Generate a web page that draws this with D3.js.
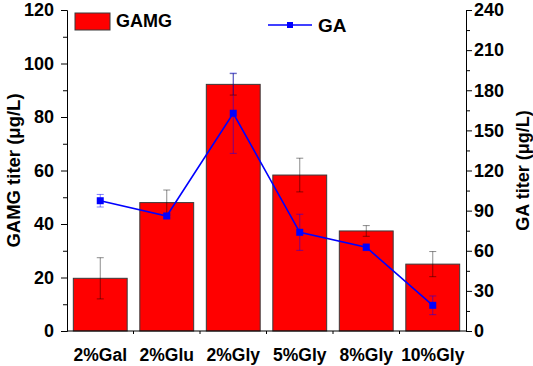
<!DOCTYPE html>
<html>
<head>
<meta charset="utf-8">
<script src="https://cdn.jsdelivr.net/npm/d3@7"></script>
<style>
    body { margin: 0; background: #fff; }
    svg { display: block; font-family: Arial, "Liberation Sans", sans-serif; }
</style>
</head>
<body>
<div id="chart"></div>
<script>
// DATA
// ================================================================================== //
const categories = ["2%Gal", "2%Glu", "2%Gly", "5%Gly", "8%Gly", "10%Gly"];
const gamg = [19.7, 48.0, 92.2, 58.3, 37.4, 25.0];
const gamgErr = [7.7, 4.7, 4.0, 6.3, 2.0, 4.7];
const ga = [97.4, 86.0, 162.8, 73.8, 62.6, 19.2];
const gaErr = [4.7, 1.5, 30.0, 13.5, 2.5, 7.0];
const leftTicks = [0, 20, 40, 60, 80, 100, 120];
const rightTicks = [0, 30, 60, 90, 120, 150, 180, 210, 240];
// ================================================================================== //

const FONT = "Arial, 'Liberation Sans', sans-serif"
const width = 533
const height = 366
const margin = ({ top: 10, right: 67, bottom: 35, left: 67 })

const rows = categories.map((c, i) => ({ cat: c, gamg: gamg[i], gamgErr: gamgErr[i], ga: ga[i], gaErr: gaErr[i] }))

const x = d3.scaleBand()
    .domain(categories)
    .range([margin.left, width - margin.right])
    .padding(0)

const barW = x.bandwidth() * 0.81
const cx = d => x(d.cat) + x.bandwidth() / 2

const yL = d3.scaleLinear().domain([0, 120]).range([height - margin.bottom, margin.top])
const yR = d3.scaleLinear().domain([0, 240]).range([height - margin.bottom, margin.top])

const svg = d3.select("#chart")
    .append("svg")
    .attr("width", width)
    .attr("height", height)

// bars
svg.append("g")
    .selectAll("rect")
    .data(rows)
    .join("rect")
    .attr("x", d => cx(d) - barW / 2)
    .attr("width", barW)
    .attr("y", d => yL(d.gamg))
    .attr("height", d => yL(0) - yL(d.gamg))
    .attr("fill", "#ff0000")
    .attr("stroke", "#3a3a3a")
    .attr("stroke-width", 1)

// error bars helper
const errBars = (g, data, val, err, scale, color, cap) => {
    const e = g.selectAll("g").data(data).join("g")
    e.append("line")
        .attr("x1", cx).attr("x2", cx)
        .attr("y1", d => scale(val(d) - err(d)))
        .attr("y2", d => scale(val(d) + err(d)))
    e.append("line")
        .attr("x1", d => cx(d) - cap).attr("x2", d => cx(d) + cap)
        .attr("y1", d => scale(val(d) + err(d))).attr("y2", d => scale(val(d) + err(d)))
    e.append("line")
        .attr("x1", d => cx(d) - cap).attr("x2", d => cx(d) + cap)
        .attr("y1", d => scale(val(d) - err(d))).attr("y2", d => scale(val(d) - err(d)))
    e.selectAll("line").attr("stroke", color).attr("stroke-width", 1)
}

svg.append("g").call(errBars, rows, d => d.gamg, d => d.gamgErr, yL, "rgba(0,0,0,0.45)", 3.5)

// GA line
svg.append("path")
    .datum(rows)
    .attr("fill", "none")
    .attr("stroke", "#0000ff")
    .attr("stroke-width", 1.6)
    .attr("d", d3.line().x(cx).y(d => yR(d.ga)))

svg.append("g").call(errBars, rows, d => d.ga, d => d.gaErr, yR, "rgba(0,0,255,0.5)", 3.5)

svg.append("g")
    .selectAll("rect")
    .data(rows)
    .join("rect")
    .attr("x", d => cx(d) - 3.5)
    .attr("y", d => yR(d.ga) - 3.5)
    .attr("width", 7)
    .attr("height", 7)
    .attr("fill", "#0000ff")

// AXES
const tickFont = size => g => g
    .attr("font-family", FONT)
    .selectAll("text")
    .attr("font-family", FONT)
    .attr("font-size", size).attr("font-weight", "bold").attr("fill", "#000")

const minor = (major) => {
    const step = major[1] - major[0]
    return major.slice(0, -1).map(v => v + step / 2)
}

// left axis
svg.append("g")
    .attr("transform", `translate(${margin.left},0)`)
    .call(d3.axisLeft(yL).tickValues(leftTicks).tickSize(6).tickPadding(7))
    .call(tickFont(18))
svg.append("g")
    .attr("transform", `translate(${margin.left},0)`)
    .call(d3.axisLeft(yL).tickValues(minor(leftTicks)).tickSize(4).tickFormat(""))
    .call(g => g.select(".domain").remove())

// right axis
svg.append("g")
    .attr("transform", `translate(${width - margin.right},0)`)
    .call(d3.axisRight(yR).tickValues(rightTicks).tickSize(6).tickPadding(2))
    .call(tickFont(18))
svg.append("g")
    .attr("transform", `translate(${width - margin.right},0)`)
    .call(d3.axisRight(yR).tickValues(minor(rightTicks)).tickSize(4).tickFormat(""))
    .call(g => g.select(".domain").remove())

// bottom axis: labels at centers, ticks at category boundaries
const bottom = svg.append("g")
    .attr("transform", `translate(0,${height - margin.bottom})`)
bottom.call(d3.axisBottom(x).tickSize(0).tickPadding(18))
    .call(tickFont(17.5))
    .call(g => g.select(".domain").attr("d", `M${margin.left},0H${width - margin.right}`))
bottom.selectAll(".sep")
    .data(categories.slice(1))
    .join("line")
    .attr("x1", d => x(d)).attr("x2", d => x(d))
    .attr("y1", 0).attr("y2", 3)
    .attr("stroke", "#000")

// axis titles
svg.append("text")
    .attr("transform", `translate(20,${(yL(0) + yL(120)) / 2}) rotate(-90)`)
    .attr("text-anchor", "middle")
    .attr("font-size", 18.5).attr("font-weight", "bold")
    .text("GAMG titer (μg/L)")
svg.append("text")
    .attr("transform", `translate(529,${(yR(0) + yR(240)) / 2}) rotate(-90)`)
    .attr("text-anchor", "middle")
    .attr("font-size", 18).attr("font-weight", "bold")
    .text("GA titer (μg/L)")

// legend
const legend = svg.append("g")
legend.append("rect")
    .attr("x", 75).attr("y", 13).attr("width", 35).attr("height", 17)
    .attr("fill", "#ff0000").attr("stroke", "#3a3a3a")
legend.append("text")
    .attr("x", 116).attr("y", 27)
    .attr("font-size", 18).attr("font-weight", "bold")
    .text("GAMG")
legend.append("line")
    .attr("x1", 268).attr("x2", 312).attr("y1", 25).attr("y2", 25)
    .attr("stroke", "#0000ff").attr("stroke-width", 1.6)
legend.append("rect")
    .attr("x", 287).attr("y", 22).attr("width", 6).attr("height", 6)
    .attr("fill", "#0000ff")
legend.append("text")
    .attr("x", 318).attr("y", 32)
    .attr("font-size", 19).attr("font-weight", "bold")
    .text("GA")
</script>
</body>
</html>
